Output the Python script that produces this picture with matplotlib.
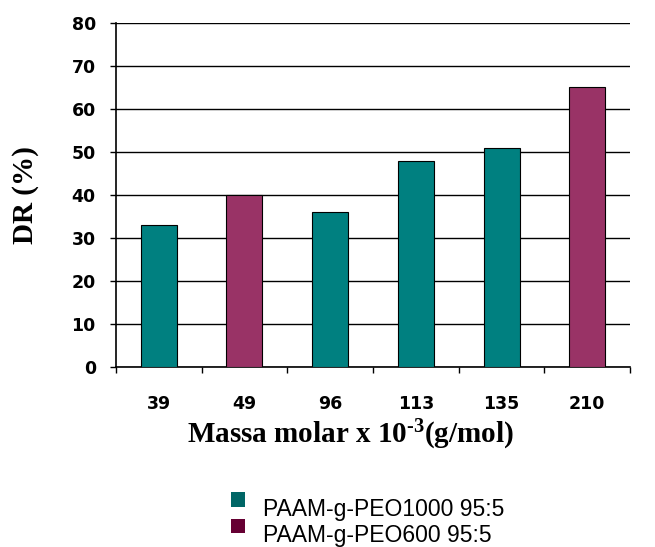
import numpy as np
import matplotlib.pyplot as plt
from matplotlib.patches import Patch, Rectangle
from matplotlib.legend_handler import HandlerPatch

# DR values per molar mass sample
massas = ['39', '49', '96', '113', '135', '210']
dr = [33, 40, 36, 48, 51, 65]
serie = ['PEO1000', 'PEO600', 'PEO1000', 'PEO1000', 'PEO1000', 'PEO600']

cores = {'PEO1000': '#008080', 'PEO600': '#993366'}
cores_leg = {'PEO1000': '#006666', 'PEO600': '#660033'}
rotulos = {'PEO1000': 'PAAM-g-PEO1000 95:5', 'PEO600': 'PAAM-g-PEO600 95:5'}

plt.rcParams['mathtext.fontset'] = 'custom'
plt.rcParams['mathtext.rm'] = 'Liberation Serif:bold'
plt.rcParams['mathtext.it'] = 'Liberation Serif:bold'
plt.rcParams['mathtext.bf'] = 'Liberation Serif:bold'

fig = plt.figure(figsize=(6.55, 5.47), dpi=100)
ax = fig.add_axes([0.177, 0.329, 0.785, 0.629])

x = np.arange(len(massas))
ax.bar(x, dr, width=0.42, color=[cores[s] for s in serie],
       edgecolor='black', linewidth=0.8, zorder=3)

ax.set_xlim(-0.5, len(massas) - 0.5)
ax.set_ylim(0, 80)
ax.set_yticks(range(0, 81, 10))
ax.yaxis.grid(True, color='black', linewidth=1.0, zorder=0)

# category labels centred, tick marks between categories
tick_font = {'family': 'DejaVu Sans', 'weight': 'bold', 'size': 12.5}
ax.set_xticks(x)
ax.set_xticklabels(massas, fontdict=tick_font)
ax.set_xticks(np.arange(-0.5, len(massas)), minor=True)
ax.tick_params(axis='x', which='major', length=0, pad=20)
ax.tick_params(axis='x', which='minor', length=4.5, width=1, direction='out')
ax.tick_params(axis='y', length=4.5, width=1, direction='out', pad=10)
ax.set_yticklabels([str(v) for v in range(0, 81, 10)], fontdict=tick_font)

for side in ['top', 'right']:
    ax.spines[side].set_visible(False)
ax.spines['left'].set_linewidth(1.2)
ax.spines['bottom'].set_linewidth(1.2)

ax.set_ylabel('DR (%)', fontfamily='Liberation Serif', fontweight='bold', fontsize=21)
ax.yaxis.set_label_coords(-0.150, 0.5)
ax.set_xlabel('Massa molar x 10$^{\u2010\\mathrm{3}}$(g/mol)', fontfamily='Liberation Serif',
              fontweight='bold', fontsize=21)
ax.xaxis.set_label_coords(0.457, -0.147)


def quadrado(legend, orig_handle, xdescent, ydescent, width, height, fontsize):
    # square sits a little above the text line
    return Rectangle((-xdescent, -ydescent + 0.55 * height), width, height)


handles = [Patch(facecolor=cores_leg[k], edgecolor='none', label=rotulos[k])
           for k in ['PEO1000', 'PEO600']]
fig.legend(handles=handles, loc='upper left', bbox_to_anchor=(0.321, 0.128),
           frameon=False, prop={'family': 'Liberation Sans', 'size': 16.5},
           handlelength=0.6, handleheight=0.6, handletextpad=0.78, labelspacing=0.15,
           handler_map={Patch: HandlerPatch(patch_func=quadrado)})

fig.savefig('out.png', dpi=100)
